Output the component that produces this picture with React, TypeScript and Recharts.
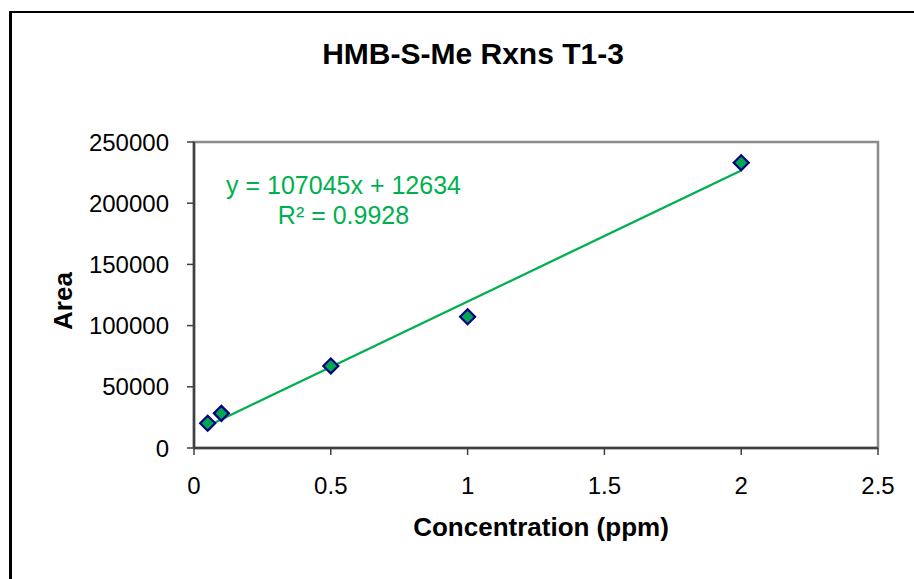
import React from "react";
import { ComposedChart, Scatter, XAxis, YAxis, ReferenceArea } from "recharts";

const concentration = [0.05, 0.1, 0.5, 1, 2];
const area = [20200, 28300, 67000, 107200, 233000];

// trendline end points as drawn (y = 107045x + 12634)
const trendX = [0.05, 2];
const trendY = [17986, 226724];

const xTicks = [0, 0.5, 1, 1.5, 2, 2.5];
const yTicks = [0, 50000, 100000, 150000, 200000, 250000];

const equationText = "y = 107045x + 12634";
const rSquaredText = "R² = 0.9928";

const points = concentration.map((x, i) => ({ x, y: area[i] }));
const trend = trendX.map((x, i) => ({ x, y: trendY[i] }));

const font = "'Liberation Sans', Arial, sans-serif";
const green = "#00B050";

const Diamond = (props: any) => {
  const { cx, cy } = props;
  if (cx == null || cy == null) return null;
  const r = 7.5;
  return (
    <path
      d={`M${cx},${cy - r} L${cx + r},${cy} L${cx},${cy + r} L${cx - r},${cy} Z`}
      fill="#00A651"
      stroke="#000080"
      strokeWidth={2.2}
    />
  );
};

export default function App() {
  return (
    <div style={{ position: "absolute", left: 0, top: 0, width: 914, height: 579, background: "#fff", fontFamily: font }}>
      <div
        style={{
          position: "absolute",
          left: 9,
          top: 11,
          width: 1000,
          height: 700,
          borderLeft: "3px solid #000",
          borderTop: "2px solid #000",
        }}
      />
      <ComposedChart
        width={914}
        height={579}
        margin={{ top: 142, right: 36, bottom: 0, left: 0 }}
        style={{ position: "absolute", left: 0, top: 0 }}
      >
        <ReferenceArea
          x1={0}
          x2={2.5}
          y1={0}
          y2={250000}
          fill="none"
          fillOpacity={0}
          stroke="#8C8C8C"
          strokeWidth={2.5}
          strokeOpacity={1}
          ifOverflow="visible"
        />
        <XAxis
          type="number"
          dataKey="x"
          domain={[0, 2.5]}
          ticks={xTicks}
          interval={0}
          height={131}
          tickSize={7}
          tickMargin={22}
          tick={{ fontSize: 24, fill: "#000", fontFamily: font }}
          tickLine={{ stroke: "#404040", strokeWidth: 1.5 }}
          axisLine={{ stroke: "#404040", strokeWidth: 2.5 }}
        />
        <YAxis
          type="number"
          dataKey="y"
          domain={[0, 250000]}
          ticks={yTicks}
          interval={0}
          width={194}
          tickSize={7}
          tickMargin={18}
          tick={{ fontSize: 24, fill: "#000", fontFamily: font }}
          tickLine={{ stroke: "#404040", strokeWidth: 1.5 }}
          axisLine={{ stroke: "#404040", strokeWidth: 2.5 }}
        />
        <Scatter
          data={trend}
          line={{ stroke: green, strokeWidth: 2.3 }}
          shape={() => <g />}
          isAnimationActive={false}
        />
        <Scatter data={points} shape={Diamond} isAnimationActive={false} />
      </ComposedChart>
      <div
        style={{
          position: "absolute",
          left: 0,
          width: 946,
          top: 36,
          textAlign: "center",
          fontSize: 30,
          fontWeight: "bold",
          lineHeight: "36px",
        }}
      >
        HMB-S-Me Rxns T1-3
      </div>
      <div
        style={{
          position: "absolute",
          left: 194,
          width: 694,
          top: 511,
          textAlign: "center",
          fontSize: 26,
          fontWeight: "bold",
          lineHeight: "32px",
        }}
      >
        Concentration (ppm)
      </div>
      <div
        style={{
          position: "absolute",
          left: 63,
          top: 301,
          fontSize: 26,
          fontWeight: "bold",
          lineHeight: "32px",
          whiteSpace: "nowrap",
          transform: "translate(-50%, -50%) rotate(-90deg)",
        }}
      >
        Area
      </div>
      <div
        style={{
          position: "absolute",
          left: 193,
          width: 301,
          top: 170,
          textAlign: "center",
          fontSize: 25,
          lineHeight: "30px",
          color: green,
        }}
      >
        <div>{equationText}</div>
        <div>{rSquaredText}</div>
      </div>
    </div>
  );
}
